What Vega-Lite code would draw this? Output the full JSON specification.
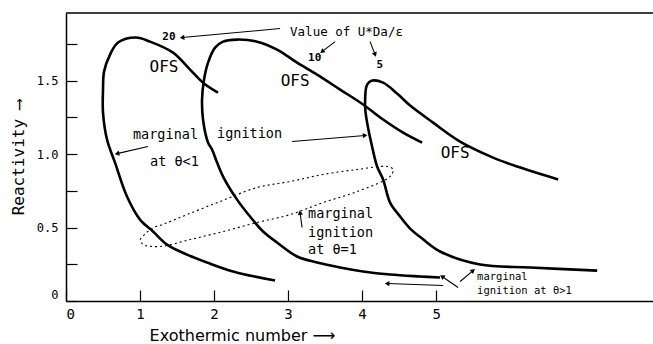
{
  "$schema": "https://vega.github.io/schema/vega-lite/v6.json",
  "width": 587,
  "height": 288,
  "autosize": "none",
  "padding": {"left": 66, "top": 13, "right": 0, "bottom": 43},
  "background": "white",
  "config": {"view": {"stroke": null}, "font": "DejaVu Sans Mono"},
  "datasets": {
    "curves": [
      {"c": "20", "i": 0, "x": 2.054, "y": 1.418},
      {"c": "20", "i": 1, "x": 1.851, "y": 1.486},
      {"c": "20", "i": 2, "x": 1.676, "y": 1.575},
      {"c": "20", "i": 3, "x": 1.446, "y": 1.69},
      {"c": "20", "i": 4, "x": 1.135, "y": 1.765},
      {"c": "20", "i": 5, "x": 0.946, "y": 1.793},
      {"c": "20", "i": 6, "x": 0.703, "y": 1.759},
      {"c": "20", "i": 7, "x": 0.595, "y": 1.677},
      {"c": "20", "i": 8, "x": 0.514, "y": 1.561},
      {"c": "20", "i": 9, "x": 0.5, "y": 1.439},
      {"c": "20", "i": 10, "x": 0.5, "y": 1.282},
      {"c": "20", "i": 11, "x": 0.554, "y": 1.099},
      {"c": "20", "i": 12, "x": 0.662, "y": 0.942},
      {"c": "20", "i": 13, "x": 0.824, "y": 0.711},
      {"c": "20", "i": 14, "x": 1.0, "y": 0.554},
      {"c": "20", "i": 15, "x": 1.176, "y": 0.473},
      {"c": "20", "i": 16, "x": 1.365, "y": 0.384},
      {"c": "20", "i": 17, "x": 1.635, "y": 0.316},
      {"c": "20", "i": 18, "x": 1.905, "y": 0.262},
      {"c": "20", "i": 19, "x": 2.257, "y": 0.201},
      {"c": "20", "i": 20, "x": 2.824, "y": 0.139},
      {"c": "10", "i": 0, "x": 4.811, "y": 1.078},
      {"c": "10", "i": 1, "x": 4.554, "y": 1.146},
      {"c": "10", "i": 2, "x": 4.284, "y": 1.235},
      {"c": "10", "i": 3, "x": 4.014, "y": 1.337},
      {"c": "10", "i": 4, "x": 3.703, "y": 1.439},
      {"c": "10", "i": 5, "x": 3.392, "y": 1.541},
      {"c": "10", "i": 6, "x": 3.122, "y": 1.622},
      {"c": "10", "i": 7, "x": 2.851, "y": 1.711},
      {"c": "10", "i": 8, "x": 2.581, "y": 1.765},
      {"c": "10", "i": 9, "x": 2.311, "y": 1.779},
      {"c": "10", "i": 10, "x": 2.122, "y": 1.765},
      {"c": "10", "i": 11, "x": 2.014, "y": 1.724},
      {"c": "10", "i": 12, "x": 1.919, "y": 1.622},
      {"c": "10", "i": 13, "x": 1.865, "y": 1.507},
      {"c": "10", "i": 14, "x": 1.838, "y": 1.371},
      {"c": "10", "i": 15, "x": 1.851, "y": 1.235},
      {"c": "10", "i": 16, "x": 1.919, "y": 1.078},
      {"c": "10", "i": 17, "x": 1.973, "y": 1.031},
      {"c": "10", "i": 18, "x": 2.041, "y": 0.942},
      {"c": "10", "i": 19, "x": 2.122, "y": 0.847},
      {"c": "10", "i": 20, "x": 2.311, "y": 0.69},
      {"c": "10", "i": 21, "x": 2.486, "y": 0.575},
      {"c": "10", "i": 22, "x": 2.662, "y": 0.473},
      {"c": "10", "i": 23, "x": 2.851, "y": 0.398},
      {"c": "10", "i": 24, "x": 3.122, "y": 0.303},
      {"c": "10", "i": 25, "x": 3.392, "y": 0.262},
      {"c": "10", "i": 26, "x": 3.703, "y": 0.228},
      {"c": "10", "i": 27, "x": 4.014, "y": 0.201},
      {"c": "10", "i": 28, "x": 4.378, "y": 0.18},
      {"c": "10", "i": 29, "x": 4.784, "y": 0.167},
      {"c": "10", "i": 30, "x": 5.054, "y": 0.16},
      {"c": "5", "i": 0, "x": 6.649, "y": 0.827},
      {"c": "5", "i": 1, "x": 6.095, "y": 0.915},
      {"c": "5", "i": 2, "x": 5.77, "y": 0.976},
      {"c": "5", "i": 3, "x": 5.324, "y": 1.085},
      {"c": "5", "i": 4, "x": 4.959, "y": 1.214},
      {"c": "5", "i": 5, "x": 4.649, "y": 1.33},
      {"c": "5", "i": 6, "x": 4.473, "y": 1.412},
      {"c": "5", "i": 7, "x": 4.284, "y": 1.486},
      {"c": "5", "i": 8, "x": 4.135, "y": 1.5},
      {"c": "5", "i": 9, "x": 4.068, "y": 1.473},
      {"c": "5", "i": 10, "x": 4.041, "y": 1.323},
      {"c": "5", "i": 11, "x": 4.068, "y": 1.214},
      {"c": "5", "i": 12, "x": 4.135, "y": 1.051},
      {"c": "5", "i": 13, "x": 4.203, "y": 0.915},
      {"c": "5", "i": 14, "x": 4.284, "y": 0.827},
      {"c": "5", "i": 15, "x": 4.378, "y": 0.67},
      {"c": "5", "i": 16, "x": 4.514, "y": 0.575},
      {"c": "5", "i": 17, "x": 4.649, "y": 0.493},
      {"c": "5", "i": 18, "x": 4.811, "y": 0.425},
      {"c": "5", "i": 19, "x": 5.054, "y": 0.337},
      {"c": "5", "i": 20, "x": 5.595, "y": 0.248},
      {"c": "5", "i": 21, "x": 6.27, "y": 0.228},
      {"c": "5", "i": 22, "x": 7.176, "y": 0.207}
    ],
    "ignition": [
      {"i": 0, "x": 1.0, "y": 0.418},
      {"i": 1, "x": 1.135, "y": 0.486},
      {"i": 2, "x": 1.338, "y": 0.527},
      {"i": 3, "x": 1.635, "y": 0.588},
      {"i": 4, "x": 2.081, "y": 0.677},
      {"i": 5, "x": 2.581, "y": 0.772},
      {"i": 6, "x": 3.027, "y": 0.813},
      {"i": 7, "x": 3.473, "y": 0.861},
      {"i": 8, "x": 3.932, "y": 0.895},
      {"i": 9, "x": 4.338, "y": 0.915},
      {"i": 10, "x": 4.419, "y": 0.895},
      {"i": 11, "x": 4.378, "y": 0.847},
      {"i": 12, "x": 3.932, "y": 0.745},
      {"i": 13, "x": 3.473, "y": 0.67},
      {"i": 14, "x": 3.027, "y": 0.588},
      {"i": 15, "x": 2.581, "y": 0.534},
      {"i": 16, "x": 2.122, "y": 0.473},
      {"i": 17, "x": 1.676, "y": 0.418},
      {"i": 18, "x": 1.27, "y": 0.371},
      {"i": 19, "x": 1.041, "y": 0.384},
      {"i": 20, "x": 1.0, "y": 0.418}
    ],
    "arrows": [
      {"a": "20", "x": 2.892, "y": 1.854, "x2": 1.568, "y2": 1.793},
      {"a": "10", "x": 3.635, "y": 1.765, "x2": 3.459, "y2": 1.697},
      {"a": "5", "x": 4.108, "y": 1.765, "x2": 4.176, "y2": 1.677},
      {"a": "lt1", "x": 1.108, "y": 1.051, "x2": 0.689, "y2": 1.003},
      {"a": "ign", "x": 3.054, "y": 1.085, "x2": 4.041, "y2": 1.126},
      {"a": "eq1", "x": 3.189, "y": 0.5, "x2": 3.162, "y2": 0.602},
      {"a": "left", "x": 5.095, "y": 0.105, "x2": 4.338, "y2": 0.119},
      {"a": "gt1a", "x": 5.297, "y": 0.092, "x2": 5.081, "y2": 0.167},
      {"a": "gt1b", "x": 5.324, "y": 0.133, "x2": 5.5, "y2": 0.207}
    ],
    "notes": [
      {"kind": "key", "x": 3.027, "y": 1.833, "t": "Value of U*Da/ε"},
      {"kind": "num", "x": 1.39, "y": 1.799, "t": "20"},
      {"kind": "num", "x": 3.36, "y": 1.656, "t": "10"},
      {"kind": "num", "x": 4.24, "y": 1.609, "t": "5"},
      {"kind": "ofs", "x": 1.324, "y": 1.595, "t": "OFS"},
      {"kind": "ofs", "x": 3.095, "y": 1.5, "t": "OFS"},
      {"kind": "ofs", "x": 5.257, "y": 1.01, "t": "OFS"},
      {"kind": "note", "x": 0.905, "y": 1.133, "t": "marginal"},
      {"kind": "note", "x": 2.041, "y": 1.139, "t": "ignition"},
      {"kind": "note", "x": 1.135, "y": 0.949, "t": "at  θ<1"},
      {"kind": "note", "x": 3.27, "y": 0.595, "t": "marginal"},
      {"kind": "note", "x": 3.27, "y": 0.466, "t": "ignition"},
      {"kind": "note", "x": 3.27, "y": 0.35, "t": "at θ=1"},
      {"kind": "small", "x": 5.554, "y": 0.16, "t": "marginal"},
      {"kind": "small", "x": 5.554, "y": 0.071, "t": "ignition at  θ>1"}
    ]
  },
  "layer": [
    {
      "data": {"values": [{}]},
      "mark": {"type": "rule", "color": "black", "strokeWidth": 1.5},
      "encoding": {"y": {"datum": 1.96, "type": "quantitative"}}
    },
    {
      "data": {"name": "curves"},
      "mark": {"type": "line", "color": "black", "strokeWidth": 2.6, "interpolate": "catmull-rom"},
      "encoding": {
        "x": {
          "field": "x", "type": "quantitative",
          "scale": {"domain": [0, 7.93], "nice": false, "zero": false},
          "axis": {
            "values": [0, 1, 2, 3, 4, 5], "format": "d",
            "tickSize": -11, "tickColor": "black", "tickWidth": 1.2,
            "domainColor": "black", "domainWidth": 1.5, "grid": false,
            "labelFlush": true, "labelFont": "DejaVu Sans Mono", "labelFontSize": 14,
            "labelColor": "black", "labelPadding": 17,
            "title": "Exothermic number  ⟶", "titleFont": "DejaVu Sans",
            "titleFontSize": 16, "titleFontWeight": "normal", "titleColor": "black",
            "titleX": 176, "titleAlign": "center", "titlePadding": 6
          }
        },
        "y": {
          "field": "y", "type": "quantitative",
          "scale": {"domain": [0, 1.96], "nice": false, "zero": false},
          "axis": {
            "values": [0, 0.25, 0.5, 0.75, 1, 1.25, 1.5, 1.75],
            "labelExpr": "datum.value == 0 ? '0' : (datum.value * 2 % 1 == 0 ? format(datum.value, '.1f') : '')",
            "tickSize": -11, "tickColor": "black", "tickWidth": 1.2,
            "domainColor": "black", "domainWidth": 1.5, "grid": false,
            "labelFlush": true, "labelFont": "DejaVu Sans Mono", "labelFontSize": 12,
            "labelColor": "black", "labelPadding": 19,
            "title": "Reactivity  ⟶", "titleFont": "DejaVu Sans Mono",
            "titleFontSize": 16, "titleFontWeight": "normal", "titleColor": "black",
            "titlePadding": 10
          }
        },
        "detail": {"field": "c", "type": "nominal"},
        "order": {"field": "i", "type": "quantitative"}
      }
    },
    {
      "data": {"name": "ignition"},
      "mark": {"type": "line", "color": "black", "strokeWidth": 1.1, "strokeDash": [2, 3], "interpolate": "catmull-rom"},
      "encoding": {
        "x": {"field": "x", "type": "quantitative"},
        "y": {"field": "y", "type": "quantitative"},
        "order": {"field": "i", "type": "quantitative"}
      }
    },
    {
      "data": {"name": "arrows"},
      "mark": {"type": "rule", "color": "black", "strokeWidth": 1.1},
      "encoding": {
        "x": {"field": "x", "type": "quantitative"},
        "y": {"field": "y", "type": "quantitative"},
        "x2": {"field": "x2"},
        "y2": {"field": "y2"}
      }
    },
    {
      "data": {"name": "arrows"},
      "transform": [
        {"calculate": "atan2((datum.x2 - datum.x) * 74, (datum.y2 - datum.y) * 147) * 180 / PI", "as": "heading"}
      ],
      "mark": {"type": "point", "shape": "triangle-up", "filled": true, "color": "black", "size": 28, "opacity": 1},
      "encoding": {
        "x": {"field": "x2", "type": "quantitative"},
        "y": {"field": "y2", "type": "quantitative"},
        "angle": {"field": "heading", "type": "quantitative", "scale": null}
      }
    },
    {
      "data": {"name": "notes"},
      "transform": [{"filter": "datum.kind == 'key'"}],
      "mark": {"type": "text", "align": "left", "baseline": "middle", "font": "DejaVu Sans Mono", "fontSize": 12.5, "color": "black"},
      "encoding": {
        "x": {"field": "x", "type": "quantitative"},
        "y": {"field": "y", "type": "quantitative"},
        "text": {"field": "t"}
      }
    },
    {
      "data": {"name": "notes"},
      "transform": [{"filter": "datum.kind == 'num'"}],
      "mark": {"type": "text", "align": "center", "baseline": "middle", "font": "DejaVu Sans Mono", "fontSize": 11, "fontWeight": "bold", "color": "black"},
      "encoding": {
        "x": {"field": "x", "type": "quantitative"},
        "y": {"field": "y", "type": "quantitative"},
        "text": {"field": "t"}
      }
    },
    {
      "data": {"name": "notes"},
      "transform": [{"filter": "datum.kind == 'ofs'"}],
      "mark": {"type": "text", "align": "center", "baseline": "middle", "font": "DejaVu Sans Mono", "fontSize": 16, "color": "black"},
      "encoding": {
        "x": {"field": "x", "type": "quantitative"},
        "y": {"field": "y", "type": "quantitative"},
        "text": {"field": "t"}
      }
    },
    {
      "data": {"name": "notes"},
      "transform": [{"filter": "datum.kind == 'note'"}],
      "mark": {"type": "text", "align": "left", "baseline": "middle", "font": "DejaVu Sans Mono", "fontSize": 13.5, "color": "black"},
      "encoding": {
        "x": {"field": "x", "type": "quantitative"},
        "y": {"field": "y", "type": "quantitative"},
        "text": {"field": "t"}
      }
    },
    {
      "data": {"name": "notes"},
      "transform": [{"filter": "datum.kind == 'small'"}],
      "mark": {"type": "text", "align": "left", "baseline": "middle", "font": "DejaVu Sans Mono", "fontSize": 10.5, "color": "black"},
      "encoding": {
        "x": {"field": "x", "type": "quantitative"},
        "y": {"field": "y", "type": "quantitative"},
        "text": {"field": "t"}
      }
    }
  ]
}
